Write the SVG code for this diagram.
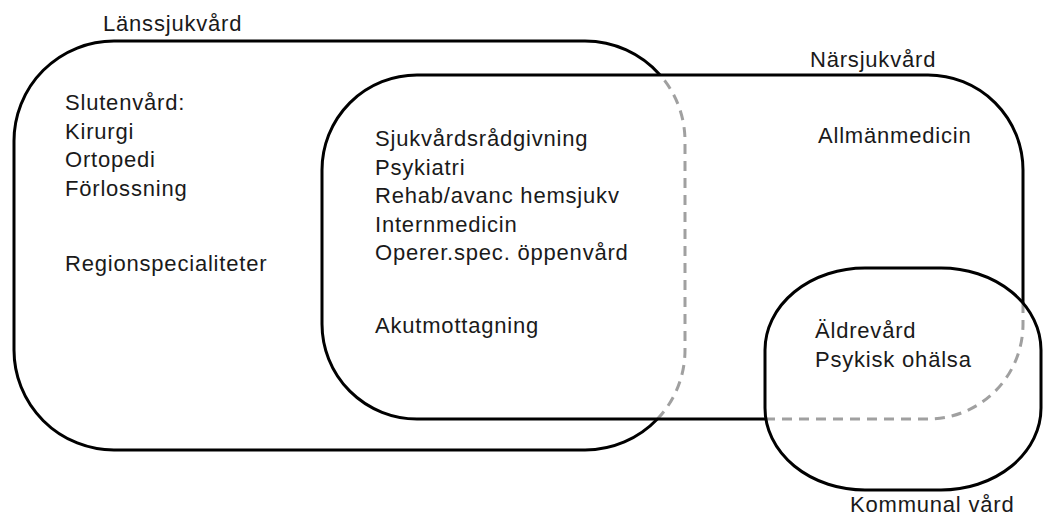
<svg xmlns="http://www.w3.org/2000/svg" width="1044" height="516" viewBox="0 0 1044 516">
  <style>
    .solid { fill: none; stroke: #000; stroke-width: 3; }
    .dash { fill: none; stroke: #a0a0a0; stroke-width: 3; stroke-dasharray: 10 7; }
    text { font-family: "Liberation Sans", Arial, sans-serif; font-size: 22px; letter-spacing: 0.8px; fill: #1a1a1a; }
  </style>
  <rect width="1044" height="516" fill="#fff"/>
  <g id="lanssjukvard">
    <path class="solid" d="M660.1,75 A100,100 0 0 0 585,41 L114,41 A100,100 0 0 0 14,141 L14,350 A100,100 0 0 0 114,450 L585,450 A100,100 0 0 0 657.4,419"/>
    <path class="dash" d="M657.4,419 A100,100 0 0 0 685,350 L685,141 A100,100 0 0 0 660.1,75"/>
    <text x="103" y="31">Länssjukvård</text>
    <text x="65" y="110">Slutenvård:</text>
    <text x="65" y="138.5">Kirurgi</text>
    <text x="65" y="167">Ortopedi</text>
    <text x="65" y="195.5">Förlossning</text>
    <text x="65" y="271">Regionspecialiteter</text>
  </g>
  <g id="narsjukvard">
    <path class="solid" d="M765.9,419 L417,419 A95,95 0 0 1 322,324 L322,170 A95,95 0 0 1 417,75 L928,75 A95,95 0 0 1 1023,170 L1023,303"/>
    <path class="dash" d="M1023,303 L1023,324 A95,95 0 0 1 928,419 L765.9,419"/>
    <text x="810" y="67">Närsjukvård</text>
    <text x="375" y="146">Sjukvårdsrådgivning</text>
    <text x="375" y="174.5">Psykiatri</text>
    <text x="375" y="203">Rehab/avanc hemsjukv</text>
    <text x="375" y="231.5">Internmedicin</text>
    <text x="375" y="260">Operer.spec. öppenvård</text>
    <text x="375" y="333">Akutmottagning</text>
    <text x="818" y="143">Allmänmedicin</text>
  </g>
  <g id="kommunal-vard">
    <rect class="solid" x="765" y="268" width="276" height="222" rx="100" ry="82"/>
    <text x="815" y="338">Äldrevård</text>
    <text x="815" y="367">Psykisk ohälsa</text>
    <text x="850" y="512">Kommunal vård</text>
  </g>
  <g id="connectors"/>
</svg>
